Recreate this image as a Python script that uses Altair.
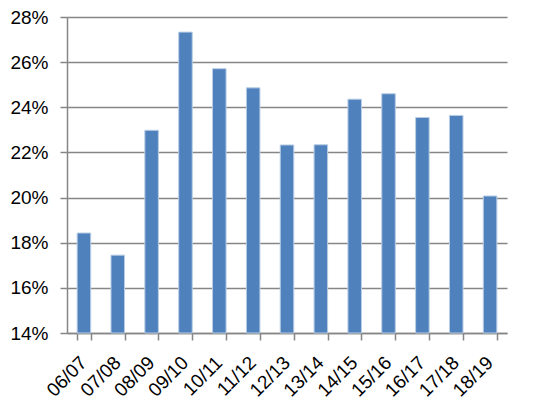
import altair as alt
import pandas as pd

years = ["06/07", "07/08", "08/09", "09/10", "10/11", "11/12", "12/13",
         "13/14", "14/15", "15/16", "16/17", "17/18", "18/19"]
values = [0.1843, 0.1745, 0.2298, 0.2733, 0.2571, 0.2486, 0.2233,
          0.2234, 0.2436, 0.2460, 0.2355, 0.2364, 0.2007]

df = pd.DataFrame({"year": years, "value": values})

grid_color = "#868686"

chart = alt.Chart(df).mark_bar(
    color="#4F81BD", stroke="#B9CDE5", strokeWidth=1
).encode(
    x=alt.X("year:N", sort=years, title=None,
            scale=alt.Scale(paddingInner=0.6, paddingOuter=0.3),
            axis=alt.Axis(labelAngle=-45, labelAlign="right", labelBaseline="top",
                          labelFontSize=19, labelColor="#000", labelFont="Liberation Sans",
                          labelPadding=13, labelOffset=-7, tickBand="extent", tickSize=7,
                          tickColor=grid_color, tickWidth=1.5,
                          domainColor=grid_color, domainWidth=1.5, grid=False)),
    y=alt.Y("value:Q", title=None,
            scale=alt.Scale(domain=[0.14, 0.28], nice=False, zero=False, clamp=True),
            axis=alt.Axis(format=".0%", values=[0.14, 0.16, 0.18, 0.20, 0.22, 0.24, 0.26, 0.28],
                          labelFontSize=19, labelColor="#000", labelFont="Liberation Sans",
                          tickSize=7, tickColor=grid_color, tickWidth=1.5, labelPadding=12,
                          domainColor=grid_color, domainWidth=1.5,
                          grid=True, gridColor=grid_color, gridWidth=1.5)),
).properties(
    width=440, height=316,
    autosize=alt.AutoSizeParams(type="none"),
    padding={"left": 59, "top": 9, "right": 24, "bottom": 70},
).configure_view(stroke=None)

chart.save("out.html", embed_options={"renderer": "svg", "actions": False})
